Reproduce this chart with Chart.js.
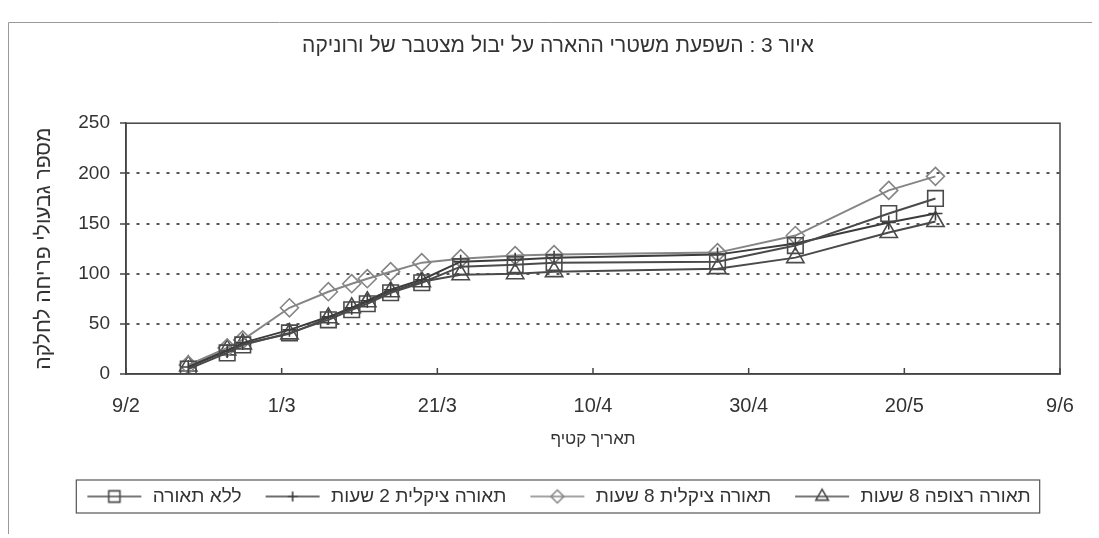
<!DOCTYPE html>
<html>
<head>
<meta charset="utf-8">
<script src="https://cdn.jsdelivr.net/npm/chart.js@4.4.1/dist/chart.umd.min.js"></script>
<style>
  html, body { margin: 0; padding: 0; background: #fff; }
</style>
</head>
<body>
<canvas id="chart" width="1099" height="538"></canvas>
<script>
// --- Data ---
const harvestDates = ["17/2", "22/2", "24/2", "2/3", "7/3", "10/3", "12/3", "15/3", "19/3", "24/3", "31/3", "5/4", "26/4", "6/5", "18/5", "24/5"];
const tickLabels = ["9/2", "1/3", "21/3", "10/4", "30/4", "20/5", "9/6"];
const seriesNames = ["ללא תאורה", "תאורה ציקלית 2 שעות", "תאורה ציקלית 8 שעות", "תאורה רצופה 8 שעות"];
const noLight = [5, 21, 29, 41, 54, 64, 70, 81, 91, 107, 109, 111, 112, 128, 160, 175];
const cyclic2h = [7, 23, 31, 44, 57, 66, 73, 84, 94, 112, 114, 116, 119, 130, 151, 160];
const cyclic8h = [9, 26, 34, 66, 82, 90, 95, 102, 111, 115, 118, 119, 121, 138, 183, 197];
const continuous8h = [8, 24, 30, 40, 56, 66, 72, 82, 92, 99, 100, 102, 105, 116, 141, 152];

const chartTitle = "איור 3 : השפעת משטרי ההארה על יבול מצטבר של ורוניקה";
const xTitle = "תאריך קטיף";
const yTitle = "מספר גבעולי פריחה לחלקה";

// day of year, non-leap year
const monthStart = [0, 31, 59, 90, 120, 151];
function dayOfYear(s) {
  const [d, m] = s.split("/").map(Number);
  return monthStart[m - 1] + d;
}
const xMin = dayOfYear(tickLabels[0]);
const xMax = dayOfYear(tickLabels[tickLabels.length - 1]);

const FONT = "'Liberation Sans', Arial, sans-serif";
const TEXT = "#333";

const styles = [
  { color: "#4a4a4a", marker: "rect", radius: 11 },
  { color: "#3c3c3c", marker: "cross", radius: 7 },
  { color: "#858585", marker: "rectRot", radius: 9 },
  { color: "#4a4a4a", marker: "triangle", radius: 10 },
];
const allSeries = [noLight, cyclic2h, cyclic8h, continuous8h];

// small icon for legend: line with the marker in the middle
function drawMarker(ctx, type, cx, cy, r) {
  ctx.beginPath();
  if (type === "rect") {
    const s = r * Math.SQRT1_2;
    ctx.rect(cx - s, cy - s, 2 * s, 2 * s);
  } else if (type === "rectRot") {
    ctx.moveTo(cx, cy - r); ctx.lineTo(cx + r, cy); ctx.lineTo(cx, cy + r); ctx.lineTo(cx - r, cy); ctx.closePath();
  } else if (type === "triangle") {
    ctx.moveTo(cx, cy - r); ctx.lineTo(cx + r * 0.87, cy + r * 0.5); ctx.lineTo(cx - r * 0.87, cy + r * 0.5); ctx.closePath();
  } else if (type === "cross") {
    ctx.moveTo(cx, cy - r); ctx.lineTo(cx, cy + r); ctx.moveTo(cx - r, cy); ctx.lineTo(cx + r, cy);
  }
  ctx.stroke();
}
function legendIcon(st) {
  const c = document.createElement("canvas");
  c.width = 58; c.height = 20;
  const g = c.getContext("2d");
  g.strokeStyle = st.color;
  g.lineWidth = 1.6;
  g.beginPath(); g.moveTo(2, 10); g.lineTo(56, 10); g.stroke();
  drawMarker(g, st.marker, 29, 10, st.radius * 0.72);
  return c;
}
const legendIcons = styles.map(legendIcon);

const datasets = allSeries.map((vals, i) => ({
  label: seriesNames[i],
  data: vals.map((v, j) => ({ x: dayOfYear(harvestDates[j]), y: v })),
  borderColor: styles[i].color,
  backgroundColor: "rgba(255,255,255,0)",
  borderWidth: 2,
  pointStyle: styles[i].marker,
  pointRadius: styles[i].radius,
  pointBorderWidth: 1.6,
  pointBorderColor: styles[i].color,
  pointBackgroundColor: "rgba(255,255,255,0)",
  tension: 0,
}));

const framePlugin = {
  id: "frame",
  beforeDraw(chart) {
    const { ctx } = chart;
    ctx.save();
    ctx.strokeStyle = "#999";
    ctx.lineWidth = 1;
    ctx.beginPath();
    ctx.moveTo(8.5, 534); ctx.lineTo(8.5, 22.5); ctx.lineTo(1092, 22.5);
    ctx.stroke();
    ctx.restore();
  },
  afterDraw(chart) {
    const { ctx, chartArea: a, scales } = chart;
    ctx.save();
    ctx.strokeStyle = "#444";
    ctx.lineWidth = 1.5;
    ctx.strokeRect(a.left, a.top, a.right - a.left, a.bottom - a.top);
    // inward tick marks on the date axis
    scales.x.ticks.forEach((t) => {
      const px = scales.x.getPixelForValue(t.value);
      ctx.beginPath(); ctx.moveTo(px, a.bottom); ctx.lineTo(px, a.bottom - 6); ctx.stroke();
    });
    // box round the legend
    const boxes = chart.legend.legendHitBoxes;
    if (boxes && boxes.length) {
      const l = Math.min(...boxes.map((b) => b.left)) - 9;
      const r = Math.max(...boxes.map((b) => b.left + b.width)) + 9;
      const t = Math.min(...boxes.map((b) => b.top)) - 7;
      const bt = Math.max(...boxes.map((b) => b.top + b.height)) + 7;
      ctx.lineWidth = 1.2;
      ctx.strokeStyle = "#555";
      ctx.strokeRect(l, t, r - l, bt - t);
    }
    ctx.restore();
  },
};

new Chart(document.getElementById("chart"), {
  type: "line",
  data: { datasets },
  plugins: [framePlugin],
  options: {
    responsive: false,
    animation: false,
    layout: { padding: { left: 56, right: 39, top: 28, bottom: 22 } },
    plugins: {
      title: {
        display: true,
        text: chartTitle,
        color: TEXT,
        font: { family: FONT, size: 21, weight: "normal" },
        padding: { top: 6, bottom: 64 },
      },
      legend: {
        position: "bottom",
        labels: {
          usePointStyle: true,
          pointStyleWidth: 58,
          boxHeight: 18,
          color: TEXT,
          font: { family: FONT, size: 19 },
          padding: 22,
          generateLabels: (chart) => {
            const items = Chart.defaults.plugins.legend.labels.generateLabels(chart);
            items.forEach((it, i) => { it.pointStyle = legendIcons[i]; });
            return items;
          },
        },
      },
      tooltip: { enabled: false },
    },
    scales: {
      x: {
        type: "linear",
        min: xMin,
        max: xMax,
        afterFit: (s) => { s.height = 91; },
        ticks: {
          stepSize: 20,
          autoSkip: false,
          maxRotation: 0,
          padding: 20,
          color: TEXT,
          font: { family: FONT, size: 20 },
          callback: (v) => tickLabels[Math.round((v - xMin) / 20)],
        },
        grid: { drawOnChartArea: false, drawTicks: false },
        border: { color: "#444", width: 1.5 },
        title: {
          display: true,
          text: xTitle,
          color: TEXT,
          font: { family: FONT, size: 17 },
          padding: { top: 0, bottom: 15 },
        },
      },
      y: {
        min: 0,
        max: 250,
        afterFit: (s) => { s.width = 70; },
        ticks: {
          stepSize: 50,
          padding: 10,
          color: TEXT,
          font: { family: FONT, size: 19 },
        },
        grid: {
          color: (c) => (c.tick && (c.tick.value === 0 || c.tick.value === 250) ? "rgba(0,0,0,0)" : "#555"),
          lineWidth: 2,
          borderDash: [3, 7],
          tickColor: "#444",
          tickLength: 6,
          tickWidth: 1.5,
          tickBorderDash: [],
        },
        border: { color: "#444", width: 1.5, dash: [3, 7] },
        title: {
          display: true,
          text: yTitle,
          color: TEXT,
          font: { family: FONT, size: 21 },
          padding: { top: -24 },
        },
      },
    },
  },
});
</script>
</body>
</html>
